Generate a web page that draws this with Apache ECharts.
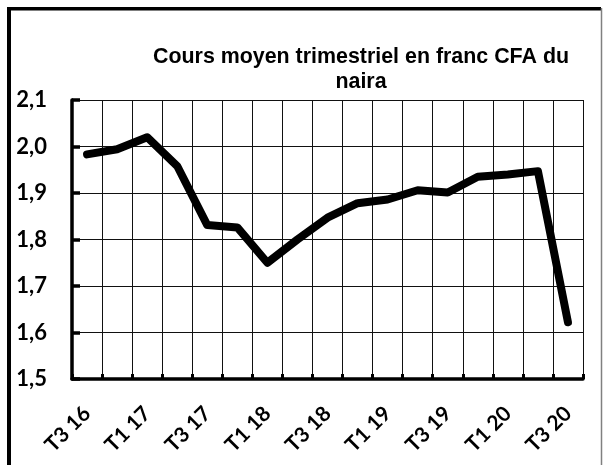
<!DOCTYPE html>
<html>
<head>
<meta charset="utf-8">
<script src="https://cdn.jsdelivr.net/npm/echarts@6/dist/echarts.min.js"></script>
<style>
html,body{margin:0;padding:0;background:#fff;}
#chart{width:603px;height:465px;}
</style>
</head>
<body>
<div id="chart"></div>
<script>
const titleText = 'Cours moyen trimestriel en franc CFA du\nnaira';
const categories = ['T3 16','T4 16','T1 17','T2 17','T3 17','T4 17','T1 18','T2 18','T3 18','T4 18','T1 19','T2 19','T3 19','T4 19','T1 20','T2 20','T3 20'];
const rates = [1.983, 1.994, 2.020, 1.958, 1.831, 1.826, 1.750, 1.800, 1.847, 1.878, 1.886, 1.906, 1.901, 1.935, 1.940, 1.947, 1.622];
const yMin = 1.5, yMax = 2.1, yStep = 0.1;

const chart = echarts.init(document.getElementById('chart'), null, {renderer:'canvas'});
chart.setOption({
  animation: false,
  backgroundColor: '#fff',
  title: {
    text: titleText,
    left: 356, top: 40,
    textAlign: 'center',
    textStyle: {fontFamily: '"Liberation Sans", Arial, sans-serif', fontWeight: 'bold', fontSize: 21.4, lineHeight: 25, color: '#000'}
  },
  graphic: [
    {type:'line', shape:{x1:9, y1:7, x2:9, y2:470}, style:{stroke:'#000', lineWidth:4}},
    {type:'line', shape:{x1:7, y1:8.75, x2:601, y2:8.75}, style:{stroke:'#000', lineWidth:3.5}},
    {type:'line', shape:{x1:601.5, y1:8, x2:601.5, y2:470}, style:{stroke:'#808080', lineWidth:1.5}}
  ],
  grid: {left: 72, right: 20, top: 100, bottom: 86, containLabel: false},
  xAxis: {
    type: 'category',
    data: categories,
    boundaryGap: true,
    axisLine: {show: true, lineStyle: {color: '#000', width: 3.5}},
    axisTick: {show: true, inside: true, length: 5, interval: 0, lineStyle: {color: '#000', width: 3}},
    splitLine: {show: true, interval: 0, lineStyle: {color: '#111', width: 1}},
    axisLabel: {interval: 1, rotate: 45, margin: 31, color: '#000', fontFamily: 'Lato, "Open Sans", sans-serif', fontWeight: 'bold', fontSize: 21}
  },
  yAxis: {
    type: 'value',
    min: yMin, max: yMax, interval: yStep,
    axisLine: {show: true, lineStyle: {color: '#000', width: 3.5}},
    axisTick: {show: true, inside: true, length: 8, lineStyle: {color: '#000', width: 3.5}},
    splitLine: {show: true, lineStyle: {color: '#111', width: 1}},
    axisLabel: {margin: 25, color: '#000', fontFamily: 'Lato, "Open Sans", sans-serif', fontWeight: 'bold', fontSize: 22,
      formatter: v => v.toFixed(1).replace('.', ',')}
  },
  series: [{
    type: 'line',
    data: rates,
    symbol: 'none',
    lineStyle: {color: '#000', width: 8, cap: 'round', join: 'round'}
  }]
});
</script>
</body>
</html>
